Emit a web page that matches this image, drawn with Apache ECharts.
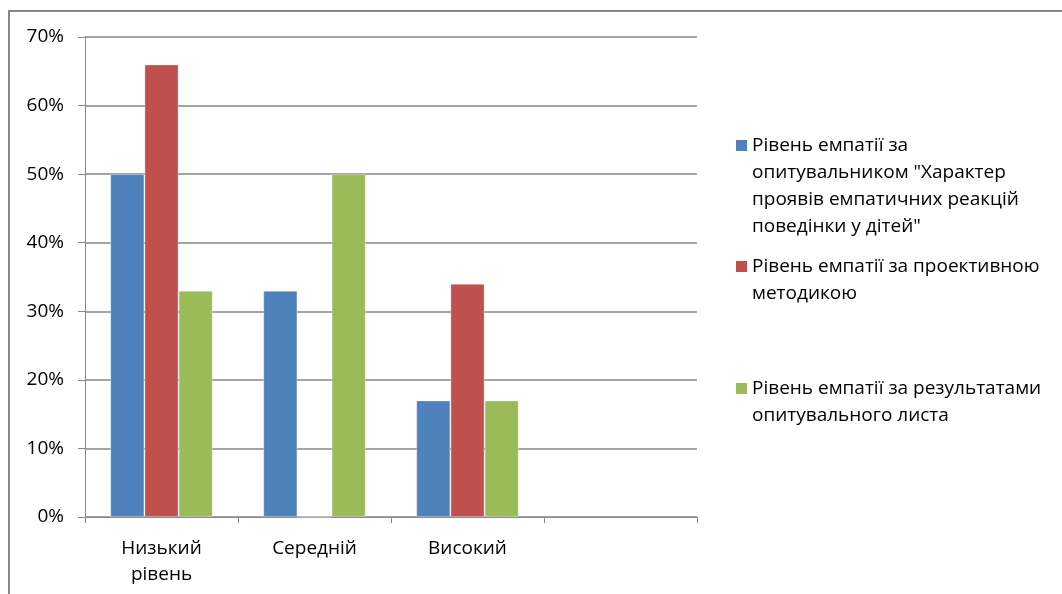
<!DOCTYPE html>
<html>
<head>
<meta charset="utf-8">
<script src="https://cdn.jsdelivr.net/npm/echarts@6/dist/echarts.min.js"></script>
<style>
  html, body { margin: 0; padding: 0; background: #fff; }
  #chart { width: 1062px; height: 594px; }
</style>
</head>
<body>
<div id="chart"></div>
<script>
// Empathy levels in children by three assessment methods (percent)
const categories = ['Низький\nрівень', 'Середній', 'Високий', ''];
const seriesNames = [
  'Рівень емпатії за\nопитувальником "Характер\nпроявів емпатичних реакцій\nповедінки у дітей"',
  'Рівень емпатії за проективною\nметодикою',
  'Рівень емпатії за результатами\nопитувального листа'
];
const questionnaireValues = [50, 33, 17, null];
const projectiveValues = [66, 0, 34, null];
const surveySheetValues = [33, 50, 17, null];
const seriesColors = ['#4F81BD', '#C0504D', '#9BBB59'];
const yTicks = [0, 10, 20, 30, 40, 50, 60, 70];

const FONT = '"Open Sans", "Noto Sans", sans-serif';
const FONT_SIZE = 19;
const LINE_H = 27;
const SQ = 11;
const seriesValues = [questionnaireValues, projectiveValues, surveySheetValues];

// Legend marker: a square beside the first text line; the invisible
// zero-length segments stretch the icon box to the full text height.
function markerIcon(lines) {
  const h = lines * LINE_H;
  const top = (LINE_H - SQ) / 2;
  return 'path://M0,0L0.01,0M0,' + h + 'L0.01,' + h +
    'M0,' + top + 'L' + SQ + ',' + top + 'L' + SQ + ',' + (top + SQ) + 'L0,' + (top + SQ) + 'Z';
}

const chart = echarts.init(document.getElementById('chart'), null, { renderer: 'canvas' });

// one legend block per series so each can sit at its own height
const legendTops = [132, 253, 375];
const legends = seriesNames.map((name, i) => {
  const lines = name.split('\n').length;
  return {
    orient: 'vertical',
    left: 736,
    top: legendTops[i],
    padding: 0,
    itemWidth: SQ,
    itemHeight: lines * LINE_H,
    itemGap: 0,
    selectedMode: false,
    itemStyle: { borderWidth: 0 },
    textStyle: { fontFamily: FONT, fontSize: FONT_SIZE, color: '#000', lineHeight: LINE_H },
    data: [{ name: name, icon: markerIcon(lines) }]
  };
});

chart.setOption({
  animation: false,
  backgroundColor: '#fff',
  grid: { left: 85, right: 365, top: 37, bottom: 77, containLabel: false },
  legend: legends,
  xAxis: {
    type: 'category',
    data: categories,
    boundaryGap: true,
    axisLine: { show: true, lineStyle: { color: '#878787', width: 1 } },
    axisTick: { show: true, length: 6, alignWithLabel: false, lineStyle: { color: '#878787' } },
    axisLabel: {
      fontFamily: FONT, fontSize: FONT_SIZE, color: '#000', lineHeight: 26, margin: 19, interval: 0
    },
    splitLine: { show: false }
  },
  yAxis: {
    type: 'value',
    min: yTicks[0],
    max: yTicks[yTicks.length - 1],
    interval: 10,
    axisLine: { show: true, lineStyle: { color: '#878787', width: 1 } },
    axisTick: { show: true, length: 7, lineStyle: { color: '#878787' } },
    axisLabel: {
      fontFamily: FONT, fontSize: FONT_SIZE, color: '#000', margin: 21,
      formatter: v => v + '%'
    },
    splitLine: { show: true, lineStyle: { color: '#878787', width: 1.5 } }
  },
  series: seriesNames.map((name, i) => ({
    name: name,
    type: 'bar',
    data: seriesValues[i],
    barGap: '0%',
    barCategoryGap: '33%',
    itemStyle: { color: seriesColors[i], borderColor: 'rgba(255,255,255,0.3)', borderWidth: 1 }
  })),
  graphic: [{
    type: 'rect',
    shape: { x: 9, y: 11, width: 1200, height: 800 },
    style: { fill: 'none', stroke: '#878787', lineWidth: 2 },
    silent: true,
    z: 100
  }]
});
</script>
</body>
</html>
